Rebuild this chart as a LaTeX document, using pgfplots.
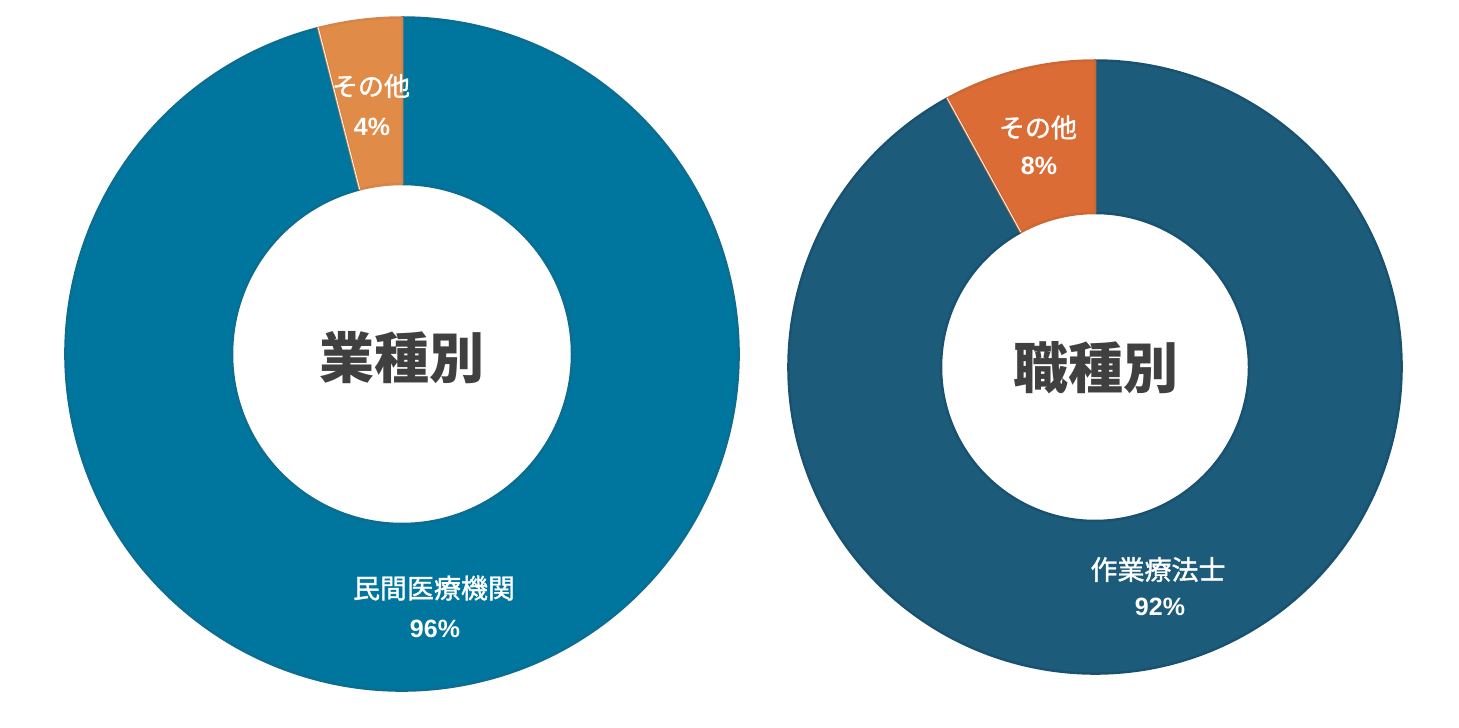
\documentclass[border=0pt]{standalone}
\usepackage{pgfplots}
\pgfplotsset{compat=1.18}
\usepackage{pgfplotstable}
\usepackage{fontspec}
\setmainfont{Liberation Sans}
\newfontfamily\jp{Noto Sans CJK JP}
\newfontfamily\jpm{Noto Sans CJK JP}[FakeBold=1.3]

\definecolor{blueA}{HTML}{00769E}
\definecolor{blueAb}{HTML}{0A6D91}
\definecolor{orA}{HTML}{E08B48}
\definecolor{orAb}{HTML}{D5844A}
\definecolor{blueB}{HTML}{1D5B7A}
\definecolor{blueBb}{HTML}{195271}
\definecolor{orB}{HTML}{DB6C35}
\definecolor{orBb}{HTML}{CD6835}
\definecolor{ctr}{HTML}{404040}

\pgfplotstableread{
label value
sonota 4
minkan 96
}\gyoshu
\pgfplotstableread{
label value
sonota 8
ot 92
}\shokushu

% #1 cx, #2 cy, #3 R, #4 r, #5 a1, #6 a2, #7 fill, #8 draw
\newcommand\slice[8]{%
  \pgfmathsetmacro\xa{#1+#3*cos(#5)}\pgfmathsetmacro\ya{#2+#3*sin(#5)}%
  \pgfmathsetmacro\xb{#1+#4*cos(#6)}\pgfmathsetmacro\yb{#2+#4*sin(#6)}%
  \pgfmathsetmacro\aa{#5}\pgfmathsetmacro\ab{#6}%
  \edef\tmp{\noexpand\filldraw[fill=#7,draw=#8,line width=2.5pt,line join=round]
    (axis cs:\xa,\ya) arc[start angle=\aa,end angle=\ab,radius=#3pt]
    -- (axis cs:\xb,\yb) arc[start angle=\ab,end angle=\aa,radius=#4pt] -- cycle;}%
  \tmp}
\newcommand\sep[5]{% cx cy R r angle
  \pgfmathsetmacro\xa{#1+#3*cos(#5)}\pgfmathsetmacro\ya{#2+#3*sin(#5)}%
  \pgfmathsetmacro\xb{#1+#4*cos(#5)}\pgfmathsetmacro\yb{#2+#4*sin(#5)}%
  \edef\tmp{\noexpand\draw[white,line width=0.8pt] (axis cs:\xa,\ya) -- (axis cs:\xb,\yb);}%
  \tmp}

\begin{document}
\begin{tikzpicture}
\begin{axis}[
  x=1pt, y=1pt,
  xmin=0, xmax=1459, ymin=0, ymax=709,
  hide axis, clip=false,
]
\path (axis cs:0,0) rectangle (axis cs:1459,709);
% left donut
\pgfplotstablegetelem{0}{value}\of\gyoshu \pgfmathsetmacro\angA{90+3.6*\pgfplotsretval}
\slice{402}{355}{336.5}{170}{\angA}{450}{blueA}{blueAb}
\slice{402}{355}{336.5}{170}{90}{\angA}{orA}{orAb}
\sep{402}{355}{337}{170}{\angA}
% right donut
\pgfplotstablegetelem{0}{value}\of\shokushu \pgfmathsetmacro\angB{90+3.6*\pgfplotsretval}
\slice{1095}{342}{306.5}{154}{\angB}{450}{blueB}{blueBb}
\slice{1095}{342}{306.5}{154}{90}{\angB}{orB}{orBb}
\sep{1095}{342}{307}{154}{\angB}
% labels
\node[white,font=\jpm\fontsize{26}{28}\selectfont] at (axis cs:371,623) {その他};
\node[white,font=\bfseries\fontsize{25}{28}\selectfont] at (axis cs:372,582) {4\%};
\node[white,font=\jpm\fontsize{27}{28}\selectfont] at (axis cs:434,121) {民間医療機関};
\node[white,font=\bfseries\fontsize{25}{28}\selectfont] at (axis cs:435,80) {96\%};
\node[white,font=\jpm\fontsize{26}{28}\selectfont] at (axis cs:1038,581.5) {その他};
\node[white,font=\bfseries\fontsize{25}{28}\selectfont] at (axis cs:1039,543.5) {8\%};
\node[white,font=\jpm\fontsize{27}{28}\selectfont] at (axis cs:1158,139.5) {作業療法士};
\node[white,font=\bfseries\fontsize{25}{28}\selectfont] at (axis cs:1160,102) {92\%};
\node[ctr,font=\jp\bfseries\fontsize{55}{60}\selectfont] at (axis cs:402,351.5) {業種別};
\node[ctr,font=\jp\bfseries\fontsize{55}{60}\selectfont] at (axis cs:1096,341) {職種別};
\end{axis}
\end{tikzpicture}
\end{document}
